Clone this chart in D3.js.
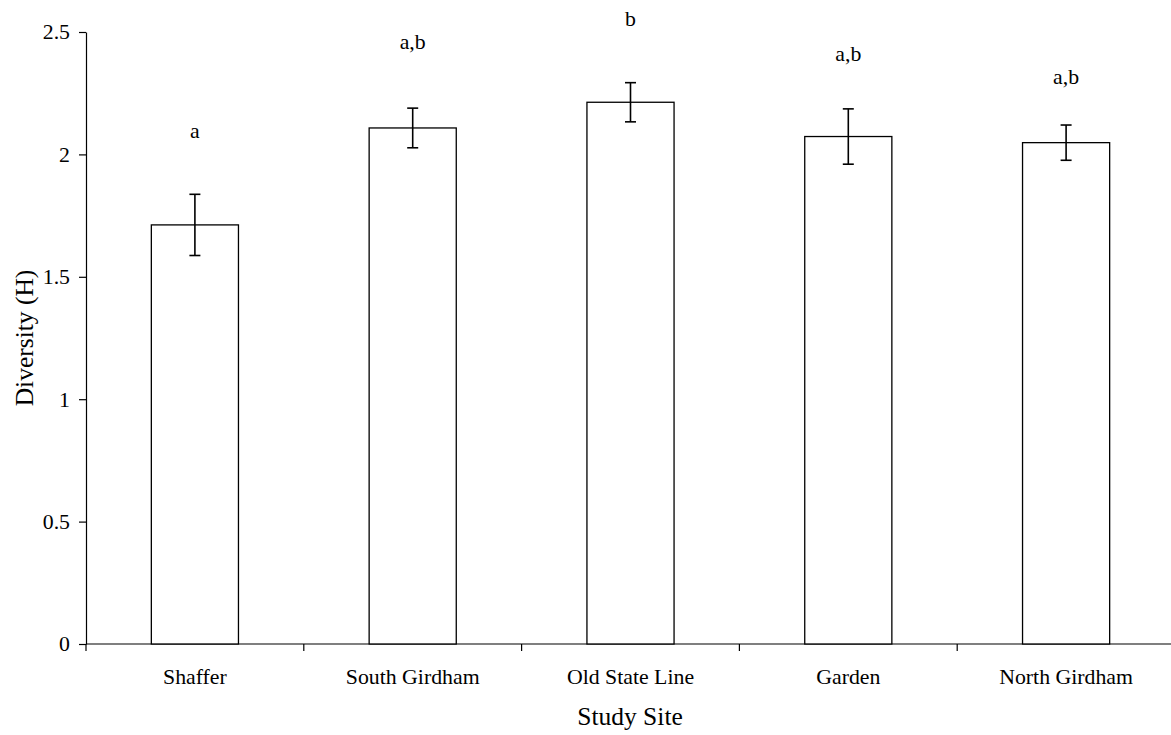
<!DOCTYPE html>
<html>
<head>
<meta charset="utf-8">
<script src="https://cdn.jsdelivr.net/npm/d3@7"></script>
<style>
  html, body { margin: 0; padding: 0; background: #fff; }
  svg { display: block; font-family: "Liberation Serif", "Times New Roman", serif; }
</style>
</head>
<body>
<script>
// chart data
const sites = ["Shaffer", "South Girdham", "Old State Line", "Garden", "North Girdham"]
const diversity = [1.712, 2.108, 2.213, 2.073, 2.048]
const stdErr = [0.125, 0.081, 0.080, 0.113, 0.072]
const groupLetters = ["a", "a,b", "b", "a,b", "a,b"]
const letterHeight = [2.097, 2.461, 2.551, 2.408, 2.318]
const yTicks = [0, 0.5, 1, 1.5, 2, 2.5]

const width = 1171
const height = 735
const plotLeft = 86, plotTop = 32, plotBottom = 644
const fontSize = 21.8

const svg = d3.select('body').append('svg')
    .attr('width', width)
    .attr('height', height)

const x = d3.scaleBand()
    .domain(sites)
    .range([plotLeft, 1175])
    .paddingInner(0.6)
    .paddingOuter(0.3)

const y = d3.scaleLinear()
    .domain([0, 2.5])
    .range([plotBottom, plotTop])

const rows = sites.map((s, i) => ({
    site: s, value: diversity[i], se: stdErr[i], letter: groupLetters[i], at: letterHeight[i]
}))

// y axis
const yAxis = svg.append('g')
    .attr('transform', `translate(${plotLeft},0)`)
    .call(d3.axisLeft(y).tickValues(yTicks).tickFormat(d => String(d)).tickSize(7).tickSizeOuter(0).tickPadding(9))
yAxis.selectAll('text').attr('font-size', fontSize).attr('fill', '#000')
yAxis.attr('font-family', null)
yAxis.selectAll('line, path').attr('stroke', '#000').attr('stroke-width', 1.2)

// x axis line + boundary ticks between sites
svg.append('line')
    .attr('x1', plotLeft).attr('x2', width)
    .attr('y1', plotBottom).attr('y2', plotBottom)
    .attr('stroke', '#000').attr('stroke-width', 1.2)

const half = x.step() * x.paddingInner() / 2
svg.append('g').selectAll('line')
    .data(sites)
    .enter().append('line')
    .attr('x1', d => x(d) - half)
    .attr('x2', d => x(d) - half)
    .attr('y1', plotBottom).attr('y2', plotBottom + 7)
    .attr('stroke', '#000').attr('stroke-width', 1.2)

// bars
svg.append('g').selectAll('rect')
    .data(rows)
    .enter().append('rect')
    .attr('x', d => x(d.site))
    .attr('y', d => y(d.value))
    .attr('width', x.bandwidth())
    .attr('height', d => plotBottom - y(d.value))
    .attr('fill', '#fff')
    .attr('stroke', '#000')
    .attr('stroke-width', 1.3)

// error bars
const cx = d => x(d.site) + x.bandwidth() / 2
const err = svg.append('g').selectAll('g')
    .data(rows)
    .enter().append('g')
    .attr('stroke', '#000').attr('stroke-width', 1.6)
err.append('line')
    .attr('x1', cx).attr('x2', cx)
    .attr('y1', d => y(d.value + d.se)).attr('y2', d => y(d.value - d.se))
err.append('line')
    .attr('x1', d => cx(d) - 5.5).attr('x2', d => cx(d) + 5.5)
    .attr('y1', d => y(d.value + d.se)).attr('y2', d => y(d.value + d.se))
err.append('line')
    .attr('x1', d => cx(d) - 5.5).attr('x2', d => cx(d) + 5.5)
    .attr('y1', d => y(d.value - d.se)).attr('y2', d => y(d.value - d.se))

// significance letters
svg.append('g').selectAll('text')
    .data(rows)
    .enter().append('text')
    .attr('x', cx)
    .attr('y', d => y(d.at))
    .attr('dy', '0.32em')
    .attr('text-anchor', 'middle')
    .attr('font-size', fontSize)
    .text(d => d.letter)

// category labels
svg.append('g').selectAll('text')
    .data(sites)
    .enter().append('text')
    .attr('x', d => x(d) + x.bandwidth() / 2)
    .attr('y', 684)
    .attr('text-anchor', 'middle')
    .attr('font-size', fontSize)
    .text(d => d)

// axis titles
svg.append('text')
    .attr('x', 630).attr('y', 725)
    .attr('text-anchor', 'middle')
    .attr('font-size', 25.5)
    .text('Study Site')

svg.append('text')
    .attr('transform', `translate(33,${(plotTop + plotBottom) / 2}) rotate(-90)`)
    .attr('text-anchor', 'middle')
    .attr('font-size', 25.5)
    .text('Diversity (H)')
</script>
</body>
</html>
